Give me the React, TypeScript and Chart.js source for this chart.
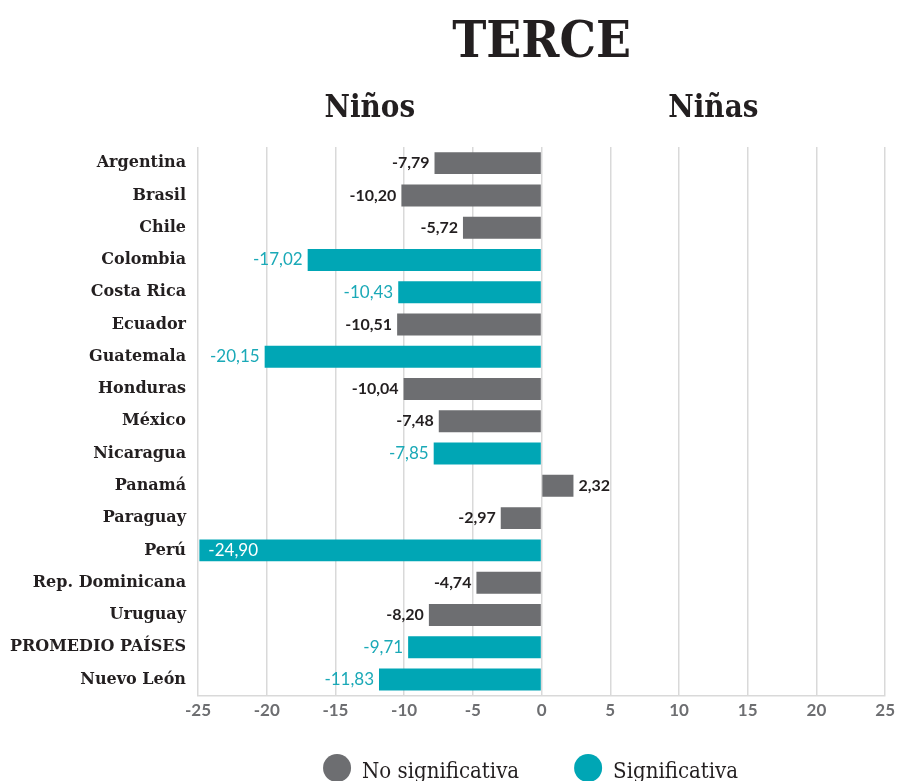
import React, { useEffect, useRef } from "react";
import { Chart, registerables } from "chart.js";

Chart.register(...registerables);

const TITLE = "TERCE";
const SUB_LEFT = "Niños";
const SUB_RIGHT = "Niñas";

const categories = [
  "Argentina",
  "Brasil",
  "Chile",
  "Colombia",
  "Costa Rica",
  "Ecuador",
  "Guatemala",
  "Honduras",
  "México",
  "Nicaragua",
  "Panamá",
  "Paraguay",
  "Perú",
  "Rep. Dominicana",
  "Uruguay",
  "PROMEDIO PAÍSES",
  "Nuevo León",
];

const values = [
  -7.79, -10.2, -5.72, -17.02, -10.43, -10.51, -20.15, -10.04, -7.48, -7.85,
  2.32, -2.97, -24.9, -4.74, -8.2, -9.71, -11.83,
];

const significant = [
  false, false, false, true, true, false, true, false, false, true, false,
  false, true, false, false, true, true,
];

const seriesNames = ["No significativa", "Significativa"];
const xTicksMin = -25;
const xTicksMax = 25;
const xTickStep = 5;

const GREY = "#6d6e71";
const TEAL = "#00a6b5";
const TEAL_TEXT = "#1aa9b7";
const DARK = "#231f20";

const fmt = (v: number) => v.toFixed(2).replace(".", ",");

const headerPlugin = {
  id: "header",
  afterDraw(chart: any) {
    const { ctx } = chart;
    const x = chart.scales.x;
    ctx.save();
    ctx.fillStyle = DARK;
    ctx.textAlign = "center";
    ctx.textBaseline = "alphabetic";
    ctx.font = 'bold 51px "DejaVu Serif Condensed", "DejaVu Serif", serif';
    ctx.fillText(TITLE, x.getPixelForValue(0), 57);
    ctx.font = 'bold 31px "DejaVu Serif Condensed", "DejaVu Serif", serif';
    ctx.fillText(SUB_LEFT, x.getPixelForValue(-12.5), 117);
    ctx.fillText(SUB_RIGHT, x.getPixelForValue(12.5), 117);
    ctx.restore();
  },
};

const valueLabelPlugin = {
  id: "valueLabels",
  afterDatasetsDraw(chart: any) {
    const { ctx, chartArea } = chart;
    ctx.save();
    ctx.textBaseline = "middle";
    chart.data.datasets.forEach((ds: any, di: number) => {
      const meta = chart.getDatasetMeta(di);
      meta.data.forEach((el: any, i: number) => {
        const v = ds.data[i];
        if (v === null || v === undefined) return;
        const sig = di === 1;
        ctx.font = sig ? '17px Lato, sans-serif' : 'bold 16px Lato, sans-serif';
        const txt = fmt(v);
        const w = ctx.measureText(txt).width;
        const color = sig ? TEAL_TEXT : DARK;
        if (v < 0) {
          if (el.x - 5 - w < chartArea.left) {
            ctx.textAlign = "left";
            ctx.fillStyle = "#ffffff";
            ctx.fillText(txt, el.x + 9, el.y);
          } else {
            ctx.textAlign = "right";
            ctx.fillStyle = color;
            ctx.fillText(txt, el.x - 5, el.y);
          }
        } else {
          ctx.textAlign = "left";
          ctx.fillStyle = color;
          ctx.fillText(txt, el.x + 5, el.y);
        }
      });
    });
    ctx.restore();
  },
};

const legendPlugin = {
  id: "customLegend",
  afterDraw(chart: any) {
    const { ctx, chartArea } = chart;
    const colors = [GREY, TEAL];
    const r = 14;
    const gapText = 11;
    const gapItems = 55;
    ctx.save();
    ctx.font = '22px "DejaVu Serif Condensed", "DejaVu Serif", serif';
    const widths = seriesNames.map((n) => 2 * r + gapText + ctx.measureText(n).width);
    const total = widths.reduce((a, b) => a + b, 0) + gapItems;
    const center = (chartArea.left + chartArea.right) / 2 - 11;
    let x = center - total / 2;
    const cy = 768;
    seriesNames.forEach((n, i) => {
      ctx.fillStyle = colors[i];
      ctx.beginPath();
      ctx.arc(x + r, cy, r, 0, Math.PI * 2);
      ctx.fill();
      ctx.fillStyle = DARK;
      ctx.textAlign = "left";
      ctx.textBaseline = "alphabetic";
      ctx.fillText(n, x + 2 * r + gapText, cy + 10);
      x += widths[i] + gapItems;
    });
    ctx.restore();
  },
};

export default function App() {
  const ref = useRef<HTMLCanvasElement | null>(null);

  useEffect(() => {
    if (!ref.current) return;
    const dataNo = values.map((v, i) => (significant[i] ? null : v));
    const dataSig = values.map((v, i) => (significant[i] ? v : null));
    const chart = new Chart(ref.current, {
      type: "bar",
      data: {
        labels: categories,
        datasets: [
          {
            label: seriesNames[0],
            data: dataNo,
            backgroundColor: GREY,
            barPercentage: 0.68,
            categoryPercentage: 1,
            grouped: false,
          } as any,
          {
            label: seriesNames[1],
            data: dataSig,
            backgroundColor: TEAL,
            barPercentage: 0.68,
            categoryPercentage: 1,
            grouped: false,
          } as any,
        ],
      },
      options: {
        indexAxis: "y",
        animation: false,
        responsive: true,
        maintainAspectRatio: false,
        layout: { padding: { top: 147, bottom: 55, right: 12, left: 0 } },
        plugins: {
          legend: { display: false },
          tooltip: { enabled: false },
          title: { display: false },
        },
        scales: {
          x: {
            min: xTicksMin,
            max: xTicksMax,
            ticks: {
              stepSize: xTickStep,
              color: GREY,
              padding: 5,
              font: { family: "Lato, sans-serif", size: 17, weight: "bold" },
            },
            grid: { color: "#d9d9d9", lineWidth: 1.5, drawTicks: false },
            border: { color: "#d9d9d9", width: 1.5 },
          },
          y: {
            grid: { display: false, drawTicks: false },
            border: { display: false },
            ticks: {
              color: DARK,
              padding: 12,
              font: { family: '"DejaVu Serif", serif', size: 16, weight: "bold" },
            },
            afterFit: (s: any) => {
              s.width = 198;
            },
          },
        },
      },
      plugins: [headerPlugin, valueLabelPlugin, legendPlugin],
    });
    return () => chart.destroy();
  }, []);

  return (
    <div style={{ position: "absolute", top: 0, left: 0, width: 900, height: 781 }}>
      <canvas ref={ref} />
    </div>
  );
}
